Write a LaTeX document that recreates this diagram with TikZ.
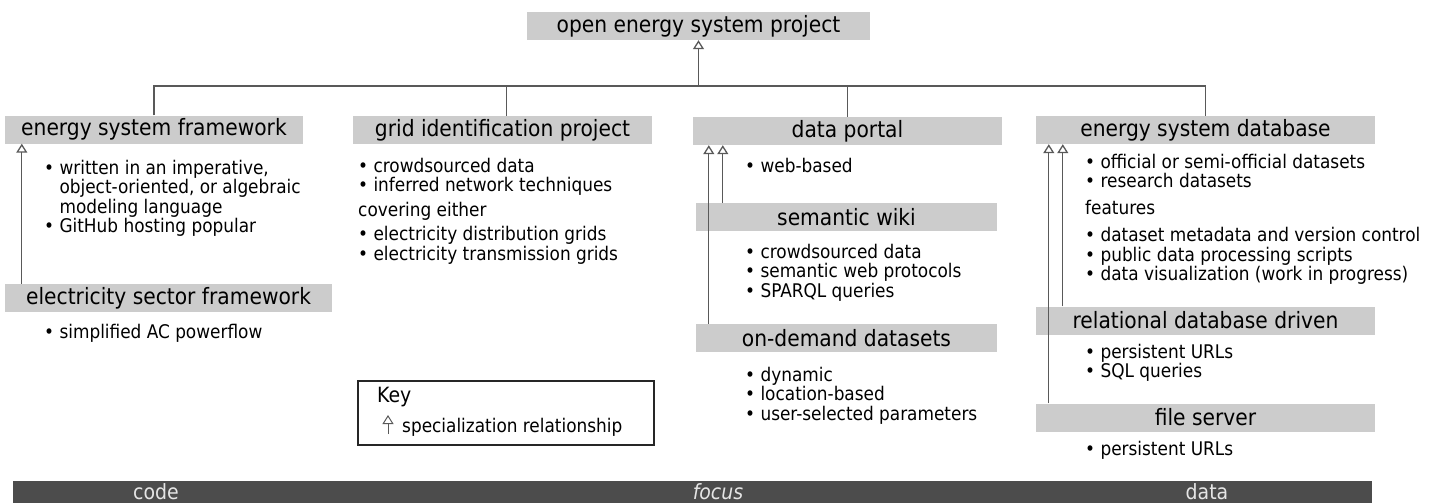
\documentclass[tikz,border=0pt]{standalone}
\usepackage{fontspec}
\setmainfont{DejaVu Sans Condensed}
\usetikzlibrary{arrows.meta}

\begin{document}
\begin{tikzpicture}[x=1pt, y=-1pt, inner sep=0pt]
		\tikzstyle{every node}=[align=left]
		\tikzstyle{hdr}=[fill=black!20, minimum height=28pt, font=\fontsize{22.5}{26}\selectfont]
		\tikzstyle{lst}=[anchor=north west, font=\fontsize{18.8}{19.5}\selectfont]
		\tikzstyle{spec}=[-{Triangle[open, length=9pt, width=11pt]}, draw=black!65, line width=1.3pt]
		\tikzstyle{link}=[draw=black!65, line width=1.3pt]
		\tikzstyle{barlbl}=[text=black!10, font=\fontsize{21}{24}\selectfont]
			\useasboundingbox (0,0) rectangle (1436,503);
	
			% headings
			\node[hdr, minimum width=343pt] (oesp) at (698.5, 26) {open energy system project};
			\node[hdr, minimum width=298pt] (esf) at (154, 129.5) {energy system framework};
			\node[hdr, minimum width=299pt] (gip) at (502.5, 130) {grid identification project};
			\node[hdr, minimum width=309pt] (dp) at (847.5, 131) {data portal};
			\node[hdr, minimum width=339pt] (esd) at (1205.5, 130) {energy system database};
			\node[hdr, minimum width=327pt] (esec) at (168.5, 298) {electricity sector framework};
			\node[hdr, minimum width=301pt] (sw) at (846.5, 217) {semantic wiki};
			\node[hdr, minimum width=301pt] (odd) at (846.5, 338) {on-demand datasets};
			\node[hdr, minimum width=339pt] (rdd) at (1205.5, 320.5) {relational database driven};
			\node[hdr, minimum width=339pt] (fs) at (1205.5, 417.5) {file server};
	
			% lists
			\node[lst] (esfl) at (44, 160) {• written in an imperative,\\\phantom{• }object-oriented, or algebraic\\\phantom{• }modeling language\\• GitHub hosting popular};
			\node[lst] (gipl) at (358, 158) {• crowdsourced data\\• inferred network techniques\\[5pt]covering either\\[5pt]• electricity distribution grids\\• electricity transmission grids};
			\node[lst] (dpl) at (745, 158) {• web-based};
			\node[lst] (swl) at (745, 244) {• crowdsourced data\\• semantic web protocols\\• SPARQL queries};
			\node[lst] (oddl) at (745, 367) {• dynamic\\• location-based\\• user-selected parameters};
			\node[lst] (esdl) at (1085, 154) {• official or semi-official datasets\\• research datasets\\[7.5pt]features\\[7.5pt]• dataset metadata and version control\\• public data processing scripts\\• data visualization (work in progress)};
			\node[lst] (rddl) at (1085, 344) {• persistent URLs\\• SQL queries};
			\node[lst] (fsl) at (1085, 441) {• persistent URLs};
			\node[lst] (esecl) at (44, 324) {• simplified AC powerflow};
	
			% tree
			\coordinate (bus) at (0, 86);
			\draw[link] (esf.north) -- (esf.north |- bus) -- (esd.north |- bus) -- (esd.north);
			\draw[link] ([xshift=4pt]gip.north) -- ([xshift=4pt]gip.north |- bus);
			\draw[link] (dp.north) -- (dp.north |- bus);
			\draw[spec] (oesp.south |- bus) -- (oesp.south);
	
			% specializations
			\draw[spec] ([xshift=17pt]esf.south west |- esec.north) -- ([xshift=17pt]esf.south west);
			\draw[spec] ([xshift=16pt]dp.south west |- odd.north) -- ([xshift=16pt]dp.south west);
			\draw[spec] ([xshift=30pt]dp.south west |- sw.north) -- ([xshift=30pt]dp.south west);
			\draw[spec] ([xshift=13pt]esd.south west |- fs.north) -- ([xshift=13pt]esd.south west);
			\draw[spec] ([xshift=27pt]esd.south west |- rdd.north) -- ([xshift=27pt]esd.south west);
	
			% key
			\node[draw=black!85, line width=1.2pt, minimum width=296pt, minimum height=64pt] (key) at (506, 413) {};
			\node[anchor=west, font=\fontsize{21}{24}\selectfont] (keyt) at (377, 397) {Key};
			\node[anchor=west, font=\fontsize{18.8}{22}\selectfont] (keyl) at (402, 427) {specialization relationship};
			\coordinate (ka) at (388, 434);
			\coordinate (kb) at (388, 415);
			\draw[spec, line width=1pt] (ka) -- (kb);
	
			% focus bar
			\node[fill=black!70, minimum width=1359pt, minimum height=26pt, anchor=north west] (bar) at (13, 481) {};
			\node[barlbl] (code) at (156, 492) {code};
			\node[barlbl] (focus) at (718, 492) {\itshape focus};
			\node[barlbl] (data) at (1207, 492) {data};
		\end{tikzpicture}
\end{document}
